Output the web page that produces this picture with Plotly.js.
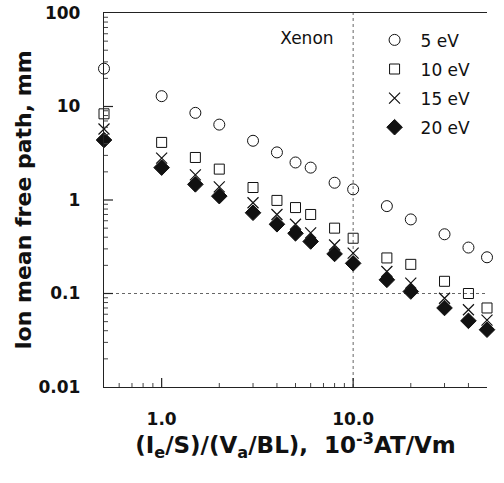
<!DOCTYPE html>
<html><head><meta charset="utf-8">
<script src="https://cdn.plot.ly/plotly-3.0.1.min.js"></script>
<style>html,body{margin:0;padding:0;background:#fff}#chart{width:504px;height:483px}</style>
</head><body><div id="chart"></div>
<script>
const xVals = [0.5, 1, 1.5, 2, 3, 4, 5, 6, 8, 10, 15, 20, 30, 40, 50];
const y5eV  = [25.4, 12.9, 8.55, 6.4, 4.3, 3.23, 2.52, 2.22, 1.53, 1.30, 0.86, 0.62, 0.43, 0.31, 0.244];
const y10eV = [8.35, 4.13, 2.85, 2.14, 1.36, 0.99, 0.83, 0.70, 0.50, 0.39, 0.24, 0.205, 0.135, 0.10, 0.07];
const y15eV = [5.75, 2.8, 1.86, 1.38, 0.935, 0.70, 0.55, 0.445, 0.33, 0.27, 0.172, 0.129, 0.089, 0.067, 0.052];
const y20eV = [4.38, 2.22, 1.47, 1.10, 0.73, 0.55, 0.44, 0.36, 0.265, 0.21, 0.14, 0.105, 0.07, 0.051, 0.041];
const seriesNames = ['5 eV', '10 eV', '15 eV', '20 eV'];
const xTickFormat = '.1f';   // tick labels "1.0", "10.0"
const xMajor = [1, 10];
const yMajor = [0.1, 1, 10];
const refX = [10];
const refY = [0.1];

// minor tick positions (2..9 within each decade)
function minorTicks(decades) {
  const out = [];
  decades.forEach(d => { for (let k = 2; k <= 9; k++) out.push(+(k * d).toPrecision(3)); });
  return out;
}
const yMinor = minorTicks([0.01, 0.1, 1, 10]);
const xMinor = minorTicks([0.1, 1, 10]).filter(v => v > 0.5 && v < 50);

const BOLD = 'DejaVu Sans, Liberation Sans, Arial, sans-serif';
const symbols = ['circle-open', 'square-open', 'x-thin-open', 'diamond'];
const sizes = [11, 10, 11, 12];
const allY = [y5eV, y10eV, y15eV, y20eV];

const traces = allY.map((ys, i) => ({
  x: xVals, y: ys, type: 'scatter', mode: 'markers', name: seriesNames[i],
  legendgroup: 'g' + i, cliponaxis: false,
  marker: {
    symbol: symbols[i], size: sizes[i], color: '#111',
    line: {color: i === 3 ? '#111' : '#444', width: i === 2 ? 1.2 : 1}
  }
}));

const shapes = [];
refX.forEach(v => shapes.push({type: 'line', xref: 'x', yref: 'paper', x0: v, x1: v, y0: 0, y1: 1,
  line: {color: '#666', width: 1, dash: 'dot'}, layer: 'below'}));
refY.forEach(v => shapes.push({type: 'line', xref: 'paper', yref: 'y', x0: 0, x1: 1, y0: v, y1: v,
  line: {color: '#666', width: 1, dash: 'dot'}, layer: 'below'}));
// inside tick marks (major and minor) on bottom and left axes
const MAJ_X = 9 / 374, MIN_X = 4 / 374, MAJ_Y = 9 / 383, MIN_Y = 4 / 383;
xMajor.forEach(v => shapes.push({type: 'line', xref: 'x', yref: 'paper', x0: v, x1: v, y0: 0, y1: MAJ_X,
  line: {color: '#222', width: 1.2}, layer: 'above'}));
xMinor.forEach(v => shapes.push({type: 'line', xref: 'x', yref: 'paper', x0: v, x1: v, y0: 0, y1: MIN_X,
  line: {color: '#444', width: 1}, layer: 'above'}));
yMajor.forEach(v => shapes.push({type: 'line', xref: 'paper', yref: 'y', x0: 0, x1: MAJ_Y, y0: v, y1: v,
  line: {color: '#222', width: 1.2}, layer: 'above'}));
yMinor.forEach(v => shapes.push({type: 'line', xref: 'paper', yref: 'y', x0: 0, x1: MIN_Y, y0: v, y1: v,
  line: {color: '#444', width: 1}, layer: 'above'}));

const hidden = 'rgba(0,0,0,0)';
const layout = {
  width: 504, height: 483,
  margin: {l: 104, r: 17, t: 13, b: 96},
  paper_bgcolor: '#fff', plot_bgcolor: '#fff',
  font: {family: BOLD, color: '#111'},
  showlegend: true,
  legend: {
    x: 0.455, xanchor: 'left', y: 0.975, yanchor: 'top',
    bgcolor: 'rgba(0,0,0,0)', borderwidth: 0,
    font: {size: 17, family: 'DejaVu Sans, sans-serif', color: '#111'},
    tracegroupgap: 4, itemwidth: 42,
    title: {text: 'Xenon     ', side: 'left', font: {size: 17, family: 'DejaVu Sans, sans-serif', color: '#111'}}
  },
  xaxis: {
    type: 'log', range: [Math.log10(0.5), Math.log10(50)],
    showgrid: false, zeroline: false,
    showline: true, linecolor: '#222', linewidth: 1.2, mirror: true,
    tickmode: 'linear', tick0: 0, dtick: 1, tickformat: xTickFormat,
    ticks: 'outside', ticklen: 16, tickcolor: hidden,
    tickfont: {size: 17, family: BOLD, weight: 'bold', color: '#111'},
    title: {text: '(I<sub>e</sub>/S)/(V<sub>a</sub>/BL),  10<sup>-3</sup>AT/Vm',
      font: {size: 23, family: BOLD, weight: 'bold', color: '#111'}, standoff: 0}
  },
  yaxis: {
    type: 'log', range: [-2, 2],
    showgrid: false, zeroline: false,
    showline: true, linecolor: '#222', linewidth: 1.2,
    tickmode: 'linear', tick0: 0, dtick: 1,
    ticks: 'outside', ticklen: 19, tickcolor: hidden,
    tickfont: {size: 17, family: BOLD, weight: 'bold', color: '#111'},
    title: {text: 'Ion mean free path, mm',
      font: {size: 22, family: BOLD, weight: 'bold', color: '#111'}, standoff: 0}
  },
  shapes: shapes
};

Plotly.newPlot('chart', traces, layout, {staticPlot: true, displayModeBar: false});
</script>
</body></html>
